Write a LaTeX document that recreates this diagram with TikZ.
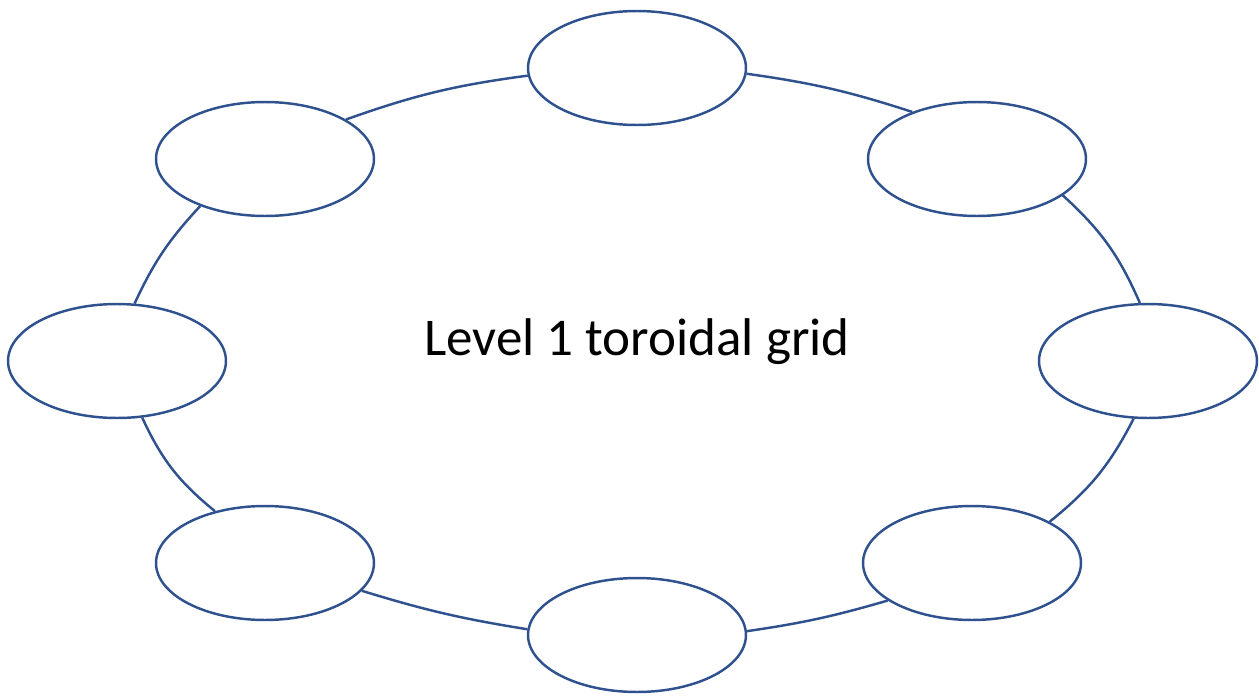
\documentclass[tikz,border=0pt]{standalone}
\usepackage{fontspec}
\setmainfont{Carlito}
\usetikzlibrary{shapes.geometric}
\definecolor{ringblue}{HTML}{2F528F}
\begin{document}
\begin{tikzpicture}[x=0.02cm,y=-0.02cm,
  cell/.style={ellipse,draw=ringblue,line width=1.4pt,fill=white,
    minimum width=4.36cm,minimum height=2.28cm,inner sep=0pt},
  link/.style={draw=ringblue,line width=1.4pt}]
\useasboundingbox (0,0) rectangle (1259,700);
\node[cell] (t)  at (637,68)  {};
\node[cell] (tr) at (977,159) {};
\node[cell] (r)  at (1148,361) {};
\node[cell] (br) at (972,563) {};
\node[cell] (b)  at (637,635) {};
\node[cell] (bl) at (265,563) {};
\node[cell] (l)  at (117,361) {};
\node[cell] (tl) at (265,159) {};
\node[anchor=base,font=\fontsize{30.2}{36}\selectfont] (lbl) at (637,355) {Level 1 toroidal grid};
\path[link] (t.-3.6)   to[bend left=5]  (tr.144.7);
\path[link] (tr.-23)   to[bend left=12] (r.98);
\path[link] (r.-104.5) to[bend left=12] (br.28.3);
\path[link] (br.-156.6) to[bend left=4] (b.2.6);
\path[link] (b.177.4)  to[bend left=4]  (bl.-16.5);
\path[link] (bl.134.4) to[bend left=13] (l.-66.7);
\path[link] (l.73.4)   to[bend left=9]  (tl.-144);
\path[link] (tl.26)    to[bend left=6]  (t.-176.3);
\end{tikzpicture}
\end{document}
